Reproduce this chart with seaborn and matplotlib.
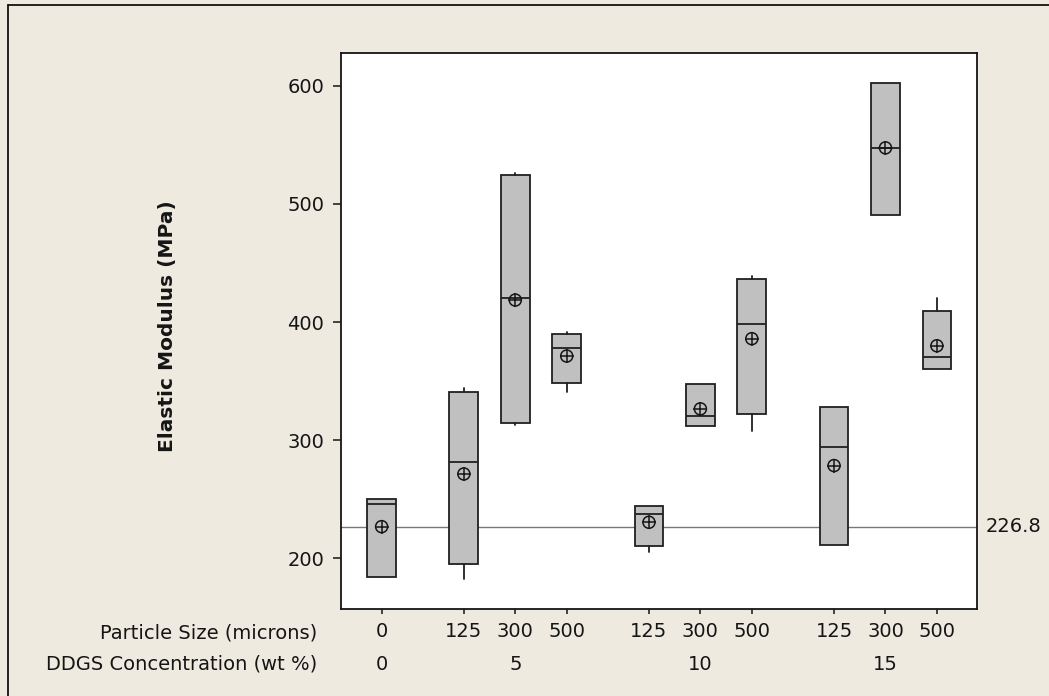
import matplotlib
matplotlib.use("Agg")
import numpy as np
import pandas as pd
import matplotlib.pyplot as plt
import matplotlib.transforms as mtransforms
from matplotlib.lines import Line2D
import seaborn as sns

# Elastic modulus (MPa) of DDGS composites by concentration and particle size
concentration = ["0", "5", "5", "5", "10", "10", "10", "15", "15", "15"]
particle_size = ["0", "125", "300", "500", "125", "300", "500", "125", "300", "500"]
whisker_low = [184.4, 182.5, 312.8, 340.5, 205.6, 312.4, 307.7, 211.4, 490.9, 360.1]
q1 = [184.4, 194.9, 314.8, 348.6, 210.4, 312.4, 321.8, 211.4, 490.9, 360.1]
median = [245.7, 281.3, 420.6, 377.7, 237.2, 320.3, 398.4, 294.2, 547.4, 370.5]
q3 = [250.2, 341.0, 524.7, 389.8, 244.3, 347.5, 436.6, 328.1, 602.6, 409.4]
whisker_high = [250.2, 344.4, 526.4, 391.8, 244.3, 347.5, 439.2, 328.1, 602.6, 420.7]
mean = [226.8, 271.4, 418.6, 371.2, 230.5, 326.5, 385.9, 278.5, 547.4, 379.9]
reference_value = 226.8

df = pd.DataFrame({
    "concentration": concentration,
    "particle_size": particle_size,
    "whislo": whisker_low, "q1": q1, "med": median,
    "q3": q3, "whishi": whisker_high, "mean": mean,
})

# slots along x: one per cell, with an extra gap between concentration groups
group_idx = pd.factorize(df["concentration"])[0]
df["pos"] = np.arange(len(df)) + 0.6 * group_idx

sns.set_style("white")
plt.rcParams["font.family"] = ["DejaVu Sans"]
plt.rcParams["font.size"] = 14

BG = "#EEEAE0"
INK = "#151515"
BOX_EDGE = "#202020"

fig = plt.figure(figsize=(10.49, 6.96), dpi=100, facecolor=BG)
ax = fig.add_axes([341 / 1049, 1 - 609 / 696, 636 / 1049, 556 / 696])
ax.set_facecolor("white")

stats = [
    dict(med=r.med, q1=r.q1, q3=r.q3, whislo=r.whislo, whishi=r.whishi,
         mean=r.mean, fliers=[])
    for r in df.itertuples()
]
ax.bxp(
    stats, positions=df["pos"], widths=0.56, patch_artist=True,
    showcaps=False, showfliers=False, showmeans=False,
    boxprops=dict(facecolor="#C0C0C0", edgecolor=BOX_EDGE, linewidth=1.3),
    medianprops=dict(color=BOX_EDGE, linewidth=1.3),
    whiskerprops=dict(color=BOX_EDGE, linewidth=1.3),
    zorder=3,
)

# mean symbol: open circle with crosshair
sns.scatterplot(x=df["pos"], y=df["mean"], marker="o", s=75, fc="none",
                ec=INK, linewidth=1.1, ax=ax, zorder=5, legend=False)
sns.scatterplot(x=df["pos"], y=df["mean"], marker="+", s=115, color=INK,
                linewidth=1.1, ax=ax, zorder=5, legend=False)

# reference line at the overall value
ax.axhline(reference_value, color="#777777", linewidth=1.0, zorder=2)
blend = mtransforms.blended_transform_factory(ax.transAxes, ax.transData)
ax.text(1.0 + 9 / 636, reference_value, f"{reference_value:.1f}",
        transform=blend, ha="left", va="center", fontsize=14, color=INK)

ax.set_xlim(-0.79, 11.58)
ax.set_ylim(157.1, 627.7)
ax.set_yticks([200, 300, 400, 500, 600])
ax.set_xticks(df["pos"])
ax.set_xticklabels(df["particle_size"])
ax.set_xlabel("")
ax.set_ylabel("Elastic Modulus (MPa)", fontsize=14.5, fontweight="bold",
              color=INK)
ax.yaxis.set_label_coords(-0.258, 0.508)

ax.tick_params(axis="y", direction="out", length=5.5, width=1.1, pad=6.5,
               labelsize=14, colors=INK, left=True)
ax.tick_params(axis="x", direction="out", length=3.4, width=1.1, pad=6,
               labelsize=14, colors=INK, bottom=True)
for side in ax.spines.values():
    side.set_color(INK)
    side.set_linewidth(1.3)
    side.set_visible(True)

# second row of x labels: concentration groups
xblend = mtransforms.blended_transform_factory(ax.transData, fig.transFigure)
group_centers = df.groupby("concentration", sort=False)["pos"].mean()
for label, xc in group_centers.items():
    ax.text(xc, 1 - 664 / 696, label, transform=xblend, ha="center",
            va="center", fontsize=14, color=INK)

fig.text(317 / 1049, 1 - 633 / 696, "Particle Size (microns)", ha="right",
         va="center", fontsize=14, color=INK)
fig.text(317 / 1049, 1 - 664 / 696, "DDGS Concentration (wt %)", ha="right",
         va="center", fontsize=14, color=INK)

# window frame edges along top and left
fig.add_artist(Line2D([8 / 1049, 1], [1 - 5 / 696, 1 - 5 / 696],
                      transform=fig.transFigure, color="#111111", lw=1.3))
fig.add_artist(Line2D([8 / 1049, 8 / 1049], [0, 1 - 5 / 696],
                      transform=fig.transFigure, color="#111111", lw=1.3))

fig.savefig("out.png", dpi=100, facecolor=BG)
